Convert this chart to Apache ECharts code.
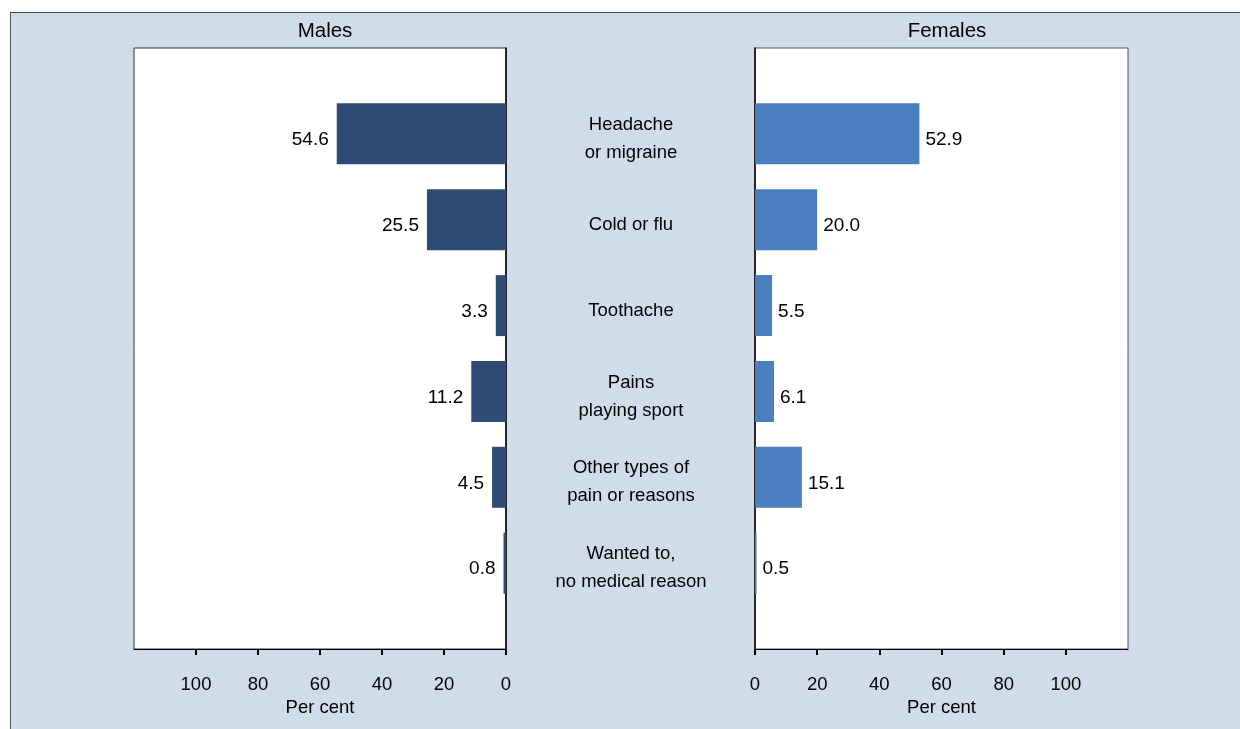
<!DOCTYPE html>
<html>
<head>
<meta charset="utf-8">
<script src="https://cdn.jsdelivr.net/npm/echarts@6/dist/echarts.min.js"></script>
<style>
  html, body { margin: 0; padding: 0; background: #ffffff; }
  #bg { position: absolute; left: 10px; top: 12px; width: 1230px; height: 717px;
        background: #d0dcea; border-left: 1px solid #4d4d4d; border-top: 1px solid #4d4d4d; box-sizing: border-box; }
  #chart { position: absolute; left: 0; top: 0; width: 1240px; height: 729px; }
</style>
</head>
<body>
<div id="bg"></div>
<div id="chart"></div>
<script>
const categories = ['Headache\nor migraine', 'Cold or flu', 'Toothache', 'Pains\nplaying sport', 'Other types of\npain or reasons', 'Wanted to,\nno medical reason'];
const males = [54.6, 25.5, 3.3, 11.2, 4.5, 0.8];
const females = [52.9, 20.0, 5.5, 6.1, 15.1, 0.5];
const tickValues = [0, 20, 40, 60, 80, 100];
const panelTitles = ['Males', 'Females'];
const axisName = 'Per cent';

// pad with empty slots at both ends so bars sit at 1..6 of 0..7
const cats = [''].concat(categories, ['']);
const pad = arr => [null].concat(arr, [null]);

const FONT = 'Liberation Sans, Arial, sans-serif';
const chart = echarts.init(document.getElementById('chart'), null, { renderer: 'canvas' });

const xAxisCommon = {
  type: 'value', min: 0, max: 120, interval: 20,
  axisLine: { show: true, lineStyle: { color: '#000', width: 1 } },
  axisTick: { show: true, length: 6, lineStyle: { color: '#000', width: 2 }, customValues: tickValues },
  axisLabel: { show: true, color: '#000', fontSize: 18.5, fontFamily: FONT, margin: 26, customValues: tickValues },
  splitLine: { show: false },
  name: axisName, nameLocation: 'middle', nameGap: 45,
  nameTextStyle: { color: '#000', fontSize: 18.5, fontFamily: FONT }
};

const labelFmt = p => (p.value == null ? '' : Number(p.value).toFixed(1));

chart.setOption({
  animation: false,
  backgroundColor: 'transparent',
  title: [
    { text: panelTitles[0], left: 320, top: 16, textAlign: 'center',
      textStyle: { color: '#000', fontSize: 20.5, fontWeight: 'normal', fontFamily: FONT } },
    { text: panelTitles[1], left: 942, top: 16, textAlign: 'center',
      textStyle: { color: '#000', fontSize: 20.5, fontWeight: 'normal', fontFamily: FONT } }
  ],
  grid: [
    { left: 134, top: 48, width: 372, height: 601, show: true, backgroundColor: '#ffffff', borderColor: '#333', borderWidth: 1 },
    { left: 755, top: 48, width: 373, height: 601, show: true, backgroundColor: '#ffffff', borderColor: '#555', borderWidth: 1 },
    { left: 507, top: 48, width: 248, height: 601, show: false }
  ],
  xAxis: [
    Object.assign({}, xAxisCommon, { gridIndex: 0, inverse: true }),
    Object.assign({}, xAxisCommon, { gridIndex: 1 }),
    { type: 'value', gridIndex: 2, min: 0, max: 2, show: false }
  ],
  yAxis: [
    { type: 'category', gridIndex: 0, data: cats, boundaryGap: false, position: 'right', inverse: true,
      axisLine: { show: true, lineStyle: { color: '#000', width: 1.5 } },
      axisTick: { show: false }, axisLabel: { show: false }, splitLine: { show: false } },
    { type: 'category', gridIndex: 1, data: cats, boundaryGap: false, position: 'left', inverse: true,
      axisLine: { show: true, lineStyle: { color: '#000', width: 1.5 } },
      axisTick: { show: false }, axisLabel: { show: false }, splitLine: { show: false } },
    { type: 'category', gridIndex: 2, data: cats, boundaryGap: false, inverse: true, show: false }
  ],
  series: [
    { type: 'bar', xAxisIndex: 0, yAxisIndex: 0, data: pad(males), barWidth: 61,
      itemStyle: { color: '#2e4c73' },
      label: { show: true, position: 'left', distance: 8, offset: [0, 6], color: '#000', fontSize: 19, fontFamily: FONT, formatter: labelFmt } },
    { type: 'bar', xAxisIndex: 1, yAxisIndex: 1, data: pad(females), barWidth: 61,
      itemStyle: { color: '#4a7ebf' },
      label: { show: true, position: 'right', distance: 6, offset: [0, 6], color: '#000', fontSize: 19, fontFamily: FONT, formatter: labelFmt } },
    { type: 'scatter', xAxisIndex: 2, yAxisIndex: 2, symbolSize: 0, silent: true,
      itemStyle: { opacity: 1 },
      data: categories.map((c, i) => [1, i + 1, c]),
      label: { show: true, position: 'inside', offset: [0, 5], color: '#000', opacity: 1, fontSize: 18.5, lineHeight: 28,
               fontFamily: FONT, align: 'center', verticalAlign: 'middle', formatter: p => p.value[2] } }
  ]
});
</script>
</body>
</html>
